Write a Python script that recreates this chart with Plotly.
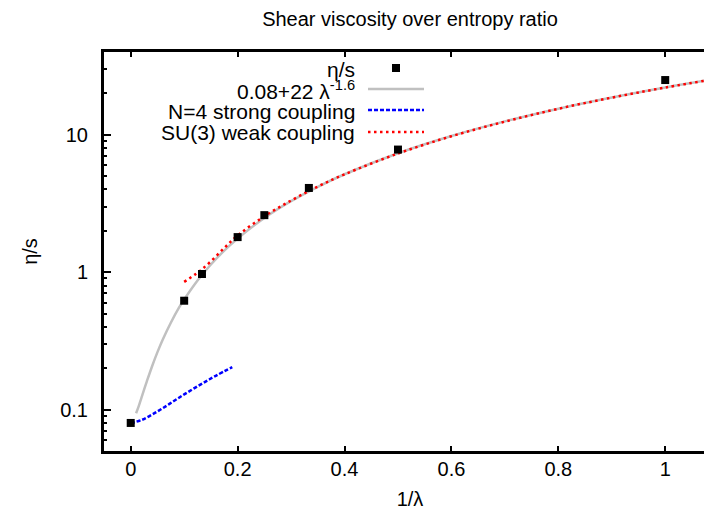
import plotly.graph_objects as go

# ---- data ----
pts_x = [0.0, 0.1, 0.1333, 0.2, 0.25, 0.3333, 0.5, 1.0]
pts_y = [0.08, 0.62, 0.97, 1.8, 2.6, 4.1, 7.8, 25.0]

fit_x = [0.01, 0.015, 0.02, 0.025, 0.03, 0.04, 0.05, 0.06, 0.075, 0.09, 0.1, 0.125, 0.15,
         0.175, 0.2, 0.25, 0.3, 0.35, 0.4, 0.5, 0.6, 0.7, 0.8, 0.9, 1.0, 1.1]
fit_y = [0.094, 0.106, 0.122, 0.140, 0.160, 0.207, 0.262, 0.324, 0.429, 0.550, 0.633, 0.870, 1.138,
         1.435, 1.755, 2.48, 3.285, 4.18, 5.158, 7.338, 9.795, 12.51, 15.48, 18.67, 22.08, 25.70]

strong_x = [0.0, 0.02, 0.04, 0.06, 0.08, 0.1, 0.12, 0.14, 0.16, 0.19]
strong_y = [0.0796, 0.0840, 0.0920, 0.1025, 0.1150, 0.1290, 0.1440, 0.1600, 0.1770, 0.2040]

weak_x = [0.1, 0.12, 0.1333, 0.15, 0.175, 0.2, 0.25, 0.3, 0.35, 0.4, 0.5, 0.6, 0.7, 0.8, 0.9, 1.0, 1.1]
weak_y = [0.85, 0.96, 1.05, 1.2, 1.5, 1.85, 2.55, 3.32, 4.2, 5.15, 7.3, 9.75, 12.45, 15.45, 18.62, 22.05, 25.68]

x_ticks = [0, 0.2, 0.4, 0.6, 0.8, 1]
x_tick_labels = ["0", "0.2", "0.4", "0.6", "0.8", "1"]
y_ticks = [0.1, 1, 10]
y_tick_labels = ["0.1", "1", "10"]
y_minor = [0.05, 0.06, 0.07, 0.08, 0.09, 0.2, 0.3, 0.4, 0.5, 0.6, 0.7, 0.8, 0.9,
           2, 3, 4, 5, 6, 7, 8, 9, 20, 30, 40]

legend_labels = ["η/s", "0.08+22 λ<sup>-1.6</sup>", "N=4 strong coupling", "SU(3) weak coupling"]

FONT = "Liberation Sans, Arial, sans-serif"
FS = 20
GREY = "#c0c0c0"

fig = go.Figure()
fig.add_trace(go.Scatter(x=fit_x, y=fit_y, mode="lines", line_shape="spline",
                         line=dict(color=GREY, width=2.5), showlegend=False))
fig.add_trace(go.Scatter(x=strong_x, y=strong_y, mode="lines", line_shape="spline",
                         line=dict(color="#0000ff", width=2.5, dash="4px,2px"), showlegend=False))
fig.add_trace(go.Scatter(x=weak_x, y=weak_y, mode="lines", line_shape="spline",
                         line=dict(color="#ff0000", width=2.5, dash="2.5px,3.5px"), showlegend=False))
fig.add_trace(go.Scatter(x=pts_x, y=pts_y, mode="markers",
                         marker=dict(symbol="square", size=8, color="black"), showlegend=False))

# page places the figure 8px in from the top-left corner
OFF = 8
W, H = 712, 509
SL, ST, SR, SB = 104, 52, 716, 451      # plot frame in screen pixels
ML, MT = SL - OFF, ST - OFF
MR = W - (SR - OFF)
MB = H - (SB - OFF)

def px(sx):
    return (sx - SL) / (SR - SL)
def py(sy):
    return (SB - sy) / (SB - ST)

# manual gnuplot-style key
rows = [69, 90, 111, 132]
text_right = 357
s0, s1 = 368, 424
for lab, yr in zip(legend_labels, rows):
    fig.add_annotation(x=px(text_right), y=py(yr), xref="paper", yref="paper",
                       text=lab, showarrow=False, xanchor="right", yanchor="middle",
                       font=dict(family=FONT, size=21, color="black"))
fig.add_shape(type="rect", xref="paper", yref="paper",
              x0=px(392), x1=px(400), y0=py(64), y1=py(72),
              fillcolor="black", line=dict(width=0))
fig.add_shape(type="line", xref="paper", yref="paper", x0=px(s0), x1=px(s1),
              y0=py(89), y1=py(89), line=dict(color=GREY, width=2.5))
fig.add_shape(type="line", xref="paper", yref="paper", x0=px(s0), x1=px(s1),
              y0=py(110), y1=py(110), line=dict(color="#0000ff", width=2.5, dash="4px,2px"))
fig.add_shape(type="line", xref="paper", yref="paper", x0=px(s0), x1=px(s1),
              y0=py(132), y1=py(132), line=dict(color="#ff0000", width=2.5, dash="2.5px,3.5px"))

fig.update_layout(
    width=W, height=H,
    margin=dict(l=ML, r=MR, t=MT, b=MB, autoexpand=False),
    paper_bgcolor="white", plot_bgcolor="white",
    font=dict(family=FONT, size=FS, color="black"),
    title=dict(text="Shear viscosity over entropy ratio", x=0.5, xref="paper",
               y=1 - (19 - OFF) / H, yanchor="middle", font=dict(family=FONT, size=FS)),
    xaxis=dict(range=[-0.05, 1.095], tickvals=x_ticks, ticktext=x_tick_labels,
               ticks="inside", ticklen=5, tickwidth=2, tickcolor="black",
               ticklabelstandoff=-2,
               showline=True, linewidth=3, linecolor="black", mirror="ticks",
               showgrid=False, zeroline=False, automargin=False,
               title=dict(text="1/λ", standoff=13, font=dict(size=FS))),
    yaxis=dict(type="log", range=[-1.301, 1.602], tickvals=y_ticks, ticktext=y_tick_labels,
               ticks="inside", ticklen=7, tickwidth=2, tickcolor="black",
               ticklabelstandoff=9,
               minor=dict(tickvals=y_minor, ticks="inside", ticklen=3, tickwidth=2,
                          tickcolor="black", showgrid=False),
               showline=True, linewidth=3, linecolor="black", mirror="ticks",
               showgrid=False, zeroline=False, automargin=False,
               title=dict(text="η/s", standoff=18, font=dict(size=FS))),
)

fig.write_html("out.html")
